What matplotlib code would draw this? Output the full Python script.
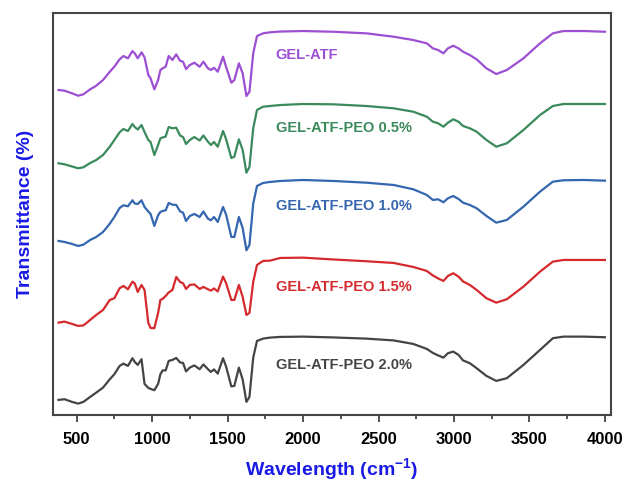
import matplotlib
matplotlib.use("Agg")
import matplotlib.pyplot as plt
from matplotlib.ticker import MultipleLocator

plt.rcParams['font.family'] = ['Liberation Sans', 'DejaVu Sans']
plt.rcParams['mathtext.fontset'] = 'custom'
plt.rcParams['mathtext.rm'] = 'Liberation Sans'
plt.rcParams['mathtext.bf'] = 'Liberation Sans:bold'

# wavenumber grid (cm-1)
wavenumber = [380, 420, 470, 510, 545, 590, 630, 675, 720, 750, 785, 810, 840, 870, 885,
              905, 930, 950, 975, 990, 1015, 1040, 1055, 1070, 1090, 1110, 1135, 1160, 1185,
              1205, 1225, 1250, 1280, 1315, 1340, 1370, 1390, 1410, 1435, 1470, 1490, 1525,
              1545, 1575, 1600, 1625, 1645, 1670, 1695, 1735, 1780, 1850, 2000, 2200, 2420,
              2600, 2730, 2820, 2860, 2895, 2930, 2960, 2995, 3030, 3060, 3105, 3150, 3215,
              3280, 3350, 3460, 3570, 3655, 3725, 3860, 4000]

# stacked transmittance (arbitrary units, offset per sample)
gel_atf = [325, 324.3, 321.7, 319.3, 320.7, 325.7, 329.3, 335, 343.3, 348.3, 355.7, 359, 356.7, 364, 361.7,
           356.7, 362.7, 357.7, 340, 336.7, 325.7, 335, 345, 346.7, 348.3, 359, 355, 360.7, 354.3,
           353.3, 346, 350, 352.3, 348.3, 353.3, 346.7, 345, 347.3, 343.3, 358.3, 348.3, 332.3,
           335, 351.7, 341.7, 319, 323.3, 361.7, 379, 381.7, 382.7, 383.5, 384, 383.3, 381.7,
           378.3, 375, 371.7, 366.7, 365, 361.7, 366.7, 369.3, 366.7, 363.3, 360, 355.7, 346.7,
           341, 345, 356.7, 371.7, 381.7, 384, 384, 383.3]
peo_05 = [251.7, 250.7, 248.5, 246.7, 247.7, 252, 255, 260, 268.3, 275, 282.7, 286, 284, 291, 288,
          285.5, 290, 283, 275, 273, 260, 270, 276.7, 277.5, 278.5, 288, 286.7, 287.3, 279.5,
          278, 271, 275, 278, 274.5, 279.5, 273.3, 270, 273, 268.3, 284, 276, 257,
          258.3, 275.7, 265, 242.3, 248, 286.7, 305, 308.3, 309, 310, 311, 310.7, 309,
          306.7, 303.3, 298.3, 293.3, 291.7, 288.3, 292.3, 295.7, 293.3, 289, 286.7, 283.3, 275,
          268.3, 271.7, 285, 300, 309, 311, 311, 311]
peo_10 = [174, 173, 171, 169, 170.3, 175, 178, 183, 191.3, 198, 207, 209.7, 208.7, 214.7, 211.5,
          211, 214.7, 208, 203.5, 201, 189, 199.7, 203, 204, 204.7, 212, 210.3, 210, 203.7,
          202.3, 194, 199, 201, 198, 203.5, 196.3, 194.7, 198, 193, 208, 200.5, 178,
          178, 198, 187, 164.7, 170, 211.3, 229, 232, 233, 234, 235, 234, 232.3,
          230, 225.7, 220, 215, 215.7, 212.7, 216.7, 219, 216, 212.3, 210, 206.7, 199,
          192.3, 195, 208.3, 223.3, 233.3, 234.7, 235, 234.3]
peo_15 = [92.3, 93.3, 91, 89, 89.5, 95, 100, 105, 115, 116.7, 126.7, 129, 125.7, 133.3, 131.5,
          123, 130, 125, 92, 87, 86.7, 102, 115, 116, 119, 122.5, 125, 138, 133,
          131.7, 126, 130, 130.5, 126, 128, 125.7, 124.3, 126.5, 123.5, 138.3, 132, 115,
          115, 130, 118, 100, 102, 133, 150, 154, 154.3, 157, 157.3, 155.5, 153.7,
          152, 148, 144, 139.5, 136.5, 134, 139, 141.7, 138.3, 133.5, 130, 125, 116.7,
          112.3, 115.7, 128.3, 143.3, 153.3, 155, 155, 155]
peo_20 = [15, 15.7, 13, 11.3, 13, 18, 22.3, 27.3, 35.7, 40.7, 49, 51.3, 49, 56.7, 53,
          50, 55.7, 31, 27, 26, 24.7, 31, 40.7, 44.5, 44.5, 54, 55, 57, 52.5,
          52, 43.5, 47.3, 49.5, 45.7, 50.5, 45.7, 43, 45.5, 41.3, 56.7, 48.5, 28.5,
          29, 47.3, 35.5, 13, 18, 57.3, 74, 76.3, 77.3, 78, 78.3, 77.5, 76.3,
          74.5, 71, 66, 62, 59.5, 57.3, 61.7, 63.3, 60, 54.5, 51.7, 46.7, 39,
          34, 36.7, 50, 65, 76.7, 78.3, 78.3, 77.7]

series = [gel_atf, peo_05, peo_10, peo_15, peo_20]
names = ['GEL-ATF', 'GEL-ATF-PEO 0.5%', 'GEL-ATF-PEO 1.0%', 'GEL-ATF-PEO 1.5%', 'GEL-ATF-PEO 2.0%']
label_y = [360, 287, 209, 128, 50]
colors = ['#9c4fd3', '#3a8a5c', '#3566b0', '#d42a2e', '#444444']

fig = plt.figure(figsize=(6.26, 4.83), dpi=100)
ax = fig.add_axes([0.085, 0.141, 0.891, 0.832])

for y, name, ly, c in zip(series, names, label_y, colors):
    ax.plot(wavenumber, y, color=c, lw=1.6)
    ax.text(1820, ly, name, color=c, fontsize=10.5, fontweight='bold', va='center')

ax.set_xlim(345, 4040)
ax.set_ylim(0, 402)
ax.xaxis.set_major_locator(MultipleLocator(500))
ax.xaxis.set_minor_locator(MultipleLocator(250))
ax.tick_params(axis='x', which='major', direction='out', length=5, width=1.2, pad=7,
               labelsize=12, colors='#333333', labelcolor='black')
ax.tick_params(axis='x', which='minor', direction='out', length=3, width=1.2, colors='#333333')
ax.set_yticks([])
for lbl in ax.get_xticklabels():
    lbl.set_fontweight('bold')
for s in ax.spines.values():
    s.set_linewidth(1.5)
    s.set_color('#444444')

ax.set_xlabel(r'Wavelength (cm$^{\mathbf{-1}}$)', fontsize=14, fontweight='bold',
              color='#1a1ae6', labelpad=7)
ax.set_ylabel('Transmittance (%)', fontsize=14, fontweight='bold', color='#1a1ae6', labelpad=14)

fig.savefig('out.png', dpi=100)
